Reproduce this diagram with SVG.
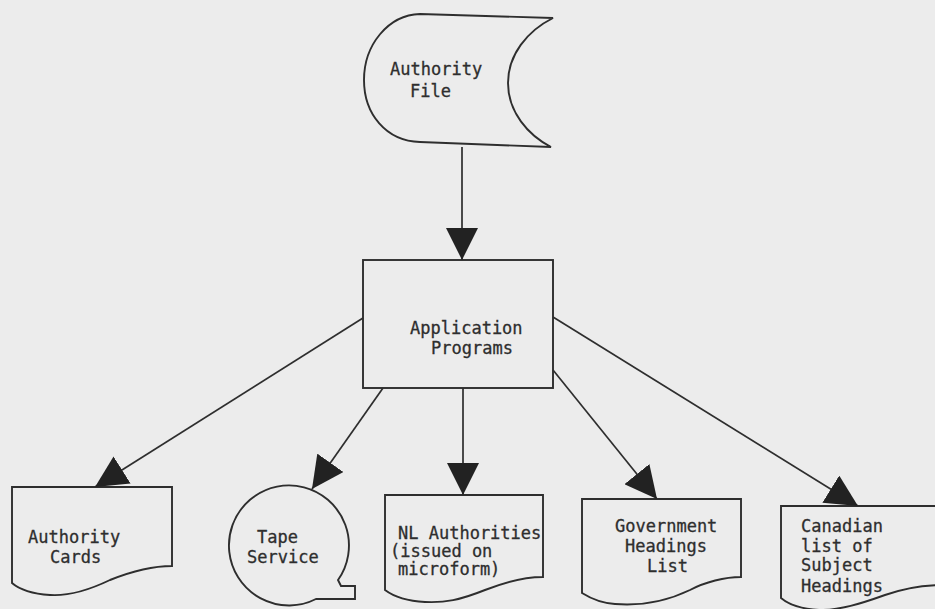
<svg xmlns="http://www.w3.org/2000/svg" width="935" height="609" viewBox="0 0 935 609">
<style>
.shape{fill:none;stroke:#2e2e2e;stroke-width:1.9;stroke-linejoin:miter}
.lbl{font-family:"DejaVu Sans Mono","Liberation Mono",monospace;font-size:17px;fill:#2e2e2e;stroke:#2e2e2e;stroke-width:0.3}
.conn{stroke:#2e2e2e;stroke-width:1.7;fill:none;marker-end:url(#arr)}
</style>
<defs>
<marker id="arr" markerUnits="userSpaceOnUse" markerWidth="32" markerHeight="32" viewBox="0 0 32 32" refX="32" refY="16" orient="auto">
<path d="M0,0 L32,16 L0,32 Z" fill="#222"/>
</marker>
</defs>
<rect x="0" y="0" width="935" height="609" fill="#ececec"/>

<g id="authority-file">
<path class="shape" d="M420,14 L553,18 C527,31 508,55 508,83 C508,112 528,135 551,147 L420,142 C386,141 364,114 364,80 C364,45 388,15 420,14 Z"/>
<text class="lbl" x="390" y="75">Authority</text>
<text class="lbl" x="410" y="97">File</text>
</g>

<g id="application-programs">
<rect class="shape" x="363" y="260" width="190" height="128"/>
<text class="lbl" x="410" y="334">Application</text>
<text class="lbl" x="431" y="354">Programs</text>
</g>

<g id="authority-cards">
<path class="shape" d="M12,487 L172,487 L172,566 C150,566 130,572 110,580 C85,592 65,596 50,595 C35,594 20,590 12,583 Z"/>
<text class="lbl" x="28" y="543">Authority</text>
<text class="lbl" x="50" y="563">Cards</text>
</g>

<g id="tape-service">
<path class="shape" d="M338,580 A60,60 0 1 0 316,599 L355,599 L355,586 L341,586 Z"/>
<text class="lbl" x="257" y="543">Tape</text>
<text class="lbl" x="247" y="563">Service</text>
</g>

<g id="nl-authorities">
<path class="shape" d="M385,495 L543,495 L543,577 C525,577 505,582 485,590 C460,600 445,603 425,602 C405,601 393,596 385,590 Z"/>
<text class="lbl" x="398" y="539">NL Authorities</text>
<text class="lbl" x="390" y="557">(issued on</text>
<text class="lbl" x="398" y="575">microform)</text>
</g>

<g id="government-headings-list">
<path class="shape" d="M582,499 L741,499 L741,577 C725,577 705,582 690,590 C665,602 640,606 615,604 C600,603 590,598 582,593 Z"/>
<text class="lbl" x="615" y="532">Government</text>
<text class="lbl" x="625" y="552">Headings</text>
<text class="lbl" x="647" y="572">List</text>
</g>

<g id="canadian-list">
<path class="shape" d="M781,506 L945,506 L945,585 C925,585 905,588 885,595 C860,604 840,610 820,610 C800,609 788,604 781,598 Z"/>
<text class="lbl" x="801" y="532">Canadian</text>
<text class="lbl" x="801" y="552">list of</text>
<text class="lbl" x="801" y="571">Subject</text>
<text class="lbl" x="801" y="592">Headings</text>
</g>

<g id="connectors">
<line class="conn" x1="462" y1="147" x2="462" y2="260"/>
<line class="conn" x1="363" y1="318" x2="95" y2="487"/>
<line class="conn" x1="383" y1="388" x2="312" y2="489"/>
<line class="conn" x1="463" y1="388" x2="463" y2="495"/>
<line class="conn" x1="553" y1="370" x2="657" y2="499"/>
<line class="conn" x1="553" y1="317" x2="858" y2="506"/>
</g>
</svg>
